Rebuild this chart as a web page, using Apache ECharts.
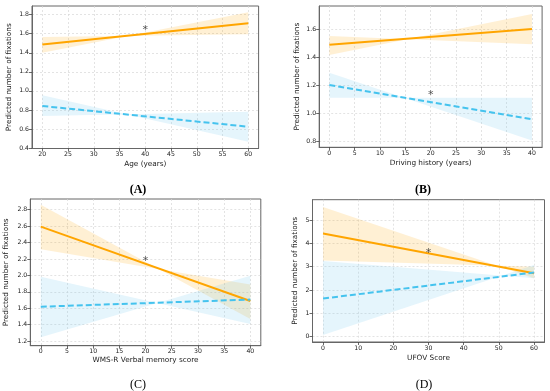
<!DOCTYPE html>
<html>
<head>
<meta charset="utf-8">
<script src="https://cdn.jsdelivr.net/npm/echarts@6/dist/echarts.min.js"></script>
<style>
html,body{margin:0;padding:0;background:#fff;}
#chart{width:550px;height:391px;}
</style>
</head>
<body>
<div id="chart"></div>
<script>
// ---- data ----
const panelLabels = ['(A)', '(B)', '(C)', '(D)'];
const xNames = ['Age (years)', 'Driving history (years)', 'WMS-R Verbal memory score', 'UFOV Score'];
const yName = 'Predicted number of fixations';
const lineX = [[20, 60], [0, 40], [0, 40], [0, 60]];
const orangeLine = [[1.488, 1.709], [1.492, 1.605], [2.593, 1.687], [4.43, 2.72]];
const blueLine = [[0.841, 0.624], [1.204, 0.958], [1.618, 1.705], [1.63, 2.75]];
const orangeBandEdge1 = [[1.40, 1.825], [1.418, 1.712], [2.86, 1.468], [5.57, 2.50]];
const orangeBandEdge2 = [[1.565, 1.594], [1.555, 1.495], [2.317, 1.89], [3.27, 3.00]];
const blueBandEdge1 = [[0.955, 0.466], [1.292, 0.805], [1.984, 1.407], [3.25, 2.50]];
const blueBandEdge2 = [[0.735, 0.780], [1.113, 1.113], [1.245, 1.996], [0.06, 3.08]];
const asterisks = [[40, 1.67], [20, 1.15], [20, 2.215], [30, 3.72]];
const xTicks = [[20, 25, 30, 35, 40, 45, 50, 55, 60], [0, 5, 10, 15, 20, 25, 30, 35, 40], [0, 5, 10, 15, 20, 25, 30, 35, 40], [0, 10, 20, 30, 40, 50, 60]];
const yTicks = [[0.4, 0.6, 0.8, 1.0, 1.2, 1.4, 1.6, 1.8], [0.8, 1.0, 1.2, 1.4, 1.6], [1.2, 1.4, 1.6, 1.8, 2.0, 2.2, 2.4, 2.6, 2.8], [0, 1, 2, 3, 4, 5]];
const xExtent = [[18, 62], [-2, 42], [-2, 42], [-3, 63]];
const yExtent = [[0.395, 1.891], [0.757, 1.770], [1.143, 2.93], [-0.244, 5.89]];

// ---- layout / style ----
const grids = [
  {left: 32, top: 6, width: 226.6, height: 142.5},
  {left: 319.2, top: 6, width: 222.9, height: 141.3},
  {left: 30.3, top: 199, width: 230.5, height: 146.7},
  {left: 312.5, top: 199.7, width: 232, height: 142.3}
];
const yNameGaps = [19, 19, 21, 14];
const xNameGaps = [12, 12, 11, 13];
const titlePos = [[133, 185], [418, 185], [133, 380], [419, 380]];
const titleBold = [true, true, false, false];
const ORANGE = '#FFA500';
const BLUE = '#45C3EE';
const FRAME = '#666';
const FONT = 'DejaVu Sans';

const option = {
  animation: false,
  backgroundColor: '#fff',
  title: panelLabels.map((t, i) => ({
    text: t,
    left: titlePos[i][0], top: titlePos[i][1],
    textAlign: 'center', textVerticalAlign: 'middle',
    textStyle: {fontFamily: 'Liberation Serif', fontSize: 12, fontWeight: titleBold[i] ? 'bold' : 'normal', color: '#000'}
  })),
  grid: grids.map(g => Object.assign({show: true, borderColor: FRAME, borderWidth: 1, backgroundColor: 'transparent'}, g)),
  xAxis: grids.map((g, i) => ({
    type: 'value', gridIndex: i, min: xExtent[i][0], max: xExtent[i][1],
    name: xNames[i], nameLocation: 'middle', nameGap: xNameGaps[i],
    nameTextStyle: {fontFamily: FONT, fontSize: 7.3, color: '#222'},
    axisLine: {show: true, onZero: false, lineStyle: {color: FRAME, width: 1}},
    axisTick: {show: true, customValues: xTicks[i], length: 3, lineStyle: {color: '#444', width: 0.8}},
    axisLabel: {customValues: xTicks[i], fontFamily: FONT, fontSize: 6.2, color: '#222', margin: 3,
      formatter: v => String(v)},
    splitLine: {show: true, lineStyle: {color: '#d8d8d8', type: [2, 2], width: 0.7}}
  })),
  yAxis: grids.map((g, i) => ({
    type: 'value', gridIndex: i, min: yExtent[i][0], max: yExtent[i][1],
    name: yName, nameLocation: 'middle', nameGap: yNameGaps[i],
    nameTextStyle: {fontFamily: FONT, fontSize: 7.3, color: '#222'},
    axisLine: {show: true, onZero: false, lineStyle: {color: FRAME, width: 1}},
    axisTick: {show: true, customValues: yTicks[i], length: 3, lineStyle: {color: '#444', width: 0.8}},
    axisLabel: {customValues: yTicks[i], fontFamily: FONT, fontSize: 6.2, color: '#222', margin: 3,
      formatter: v => (i === 3 ? String(Math.round(v)) : Number(v).toFixed(1))},
    splitLine: {show: true, lineStyle: {color: '#d8d8d8', type: [2, 2], width: 0.7}}
  })),
  series: []
};

function bandSeries(i, e1, e2, color, opacity, z) {
  return {
    type: 'custom', xAxisIndex: i, yAxisIndex: i, z: z, silent: true,
    data: [[lineX[i][0], lineX[i][1], e1[i][0], e1[i][1], e2[i][0], e2[i][1]]],
    encode: {x: [0, 1], y: [2, 3, 4, 5]},
    renderItem: (params, api) => {
      const p1 = api.coord([api.value(0), api.value(2)]);
      const p2 = api.coord([api.value(1), api.value(3)]);
      const p3 = api.coord([api.value(1), api.value(5)]);
      const p4 = api.coord([api.value(0), api.value(4)]);
      return {type: 'polygon', shape: {points: [p1, p2, p3, p4]}, style: {fill: color, opacity: opacity}};
    }
  };
}

for (let i = 0; i < 4; i++) {
  option.series.push(bandSeries(i, orangeBandEdge1, orangeBandEdge2, ORANGE, 0.17, 1));
  option.series.push(bandSeries(i, blueBandEdge1, blueBandEdge2, '#7fcff0', 0.2, 1));
  option.series.push({
    type: 'line', xAxisIndex: i, yAxisIndex: i, z: 3, symbol: 'none', silent: true,
    data: [[lineX[i][0], orangeLine[i][0]], [lineX[i][1], orangeLine[i][1]]],
    lineStyle: {color: ORANGE, width: 2}
  });
  option.series.push({
    type: 'line', xAxisIndex: i, yAxisIndex: i, z: 4, symbol: 'none', silent: true,
    data: [[lineX[i][0], blueLine[i][0]], [lineX[i][1], blueLine[i][1]]],
    lineStyle: {color: BLUE, width: 2, type: [6, 3]}
  });
  option.series.push({
    type: 'scatter', xAxisIndex: i, yAxisIndex: i, z: 5, silent: true,
    data: [asterisks[i]], symbolSize: 1, itemStyle: {color: 'rgba(0,0,0,0)'},
    label: {show: true, formatter: '*', position: 'inside', offset: [0, 3],
      fontFamily: FONT, fontSize: 11, color: '#222'}
  });
}

const chart = echarts.init(document.getElementById('chart'), null, {renderer: 'canvas'});
chart.setOption(option);
</script>
</body>
</html>
